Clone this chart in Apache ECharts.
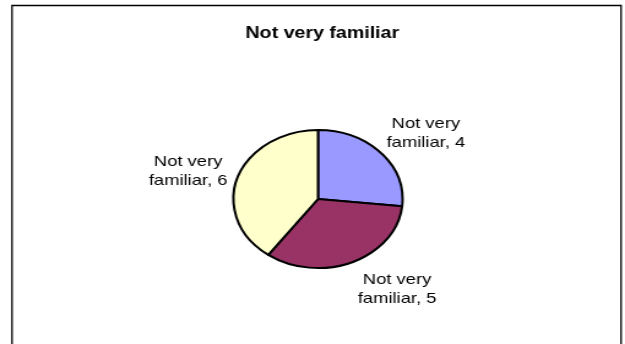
<!DOCTYPE html>
<html>
<head>
<meta charset="utf-8">
<script src="https://cdn.jsdelivr.net/npm/echarts@6/dist/echarts.min.js"></script>
<style>
  html, body { margin: 0; padding: 0; background: #fff; }
  #wrap { width: 625px; height: 344px; overflow: hidden; position: relative; }
  #main { width: 510px; height: 344px; transform: scaleX(1.2255); transform-origin: 0 0; }
</style>
</head>
<body>
<div id="wrap"><div id="main"></div></div>
<script>
// ---- data ----
const chartTitle = 'Not very familiar';
const categories = ['Not very familiar', 'Not very familiar', 'Not very familiar'];
const values = [4, 5, 6];
const sliceColors = ['#9999FF', '#993366', '#FFFFCC'];

// ---- layout (unscaled canvas coordinates) ----
const pieCenter = [259.5, 199];
const pieRadius = 69;
// label block centers, relative to the pie centre
const labelOffsets = [[88, -65.5], [64.5, 90], [-106, -28]];

const chart = echarts.init(document.getElementById('main'), null, { renderer: 'canvas' });

chart.setOption({
  backgroundColor: '#ffffff',
  animation: false,
  title: {
    text: chartTitle,
    left: 258,
    top: 21,
    textAlign: 'center',
    textStyle: { fontFamily: 'Liberation Sans, Arial, sans-serif', fontSize: 16, fontWeight: 'bold', color: '#000' }
  },
  graphic: [{
    type: 'rect',
    shape: { x: 9.8, y: 5.5, width: 497, height: 400 },
    style: { fill: null, stroke: '#000', lineWidth: 1.3 },
    silent: true
  }],
  series: [{
    type: 'pie',
    center: pieCenter,
    radius: pieRadius,
    startAngle: 90,
    clockwise: true,
    avoidLabelOverlap: false,
    itemStyle: { borderColor: '#000', borderWidth: 2 },
    label: {
      show: true,
      position: 'outside',
      formatter: function (p) { return 'Not very\nfamiliar, ' + p.value; },
      fontFamily: 'Liberation Sans, Arial, sans-serif',
      fontSize: 15,
      lineHeight: 19,
      color: '#000',
      align: 'center'
    },
    labelLine: { show: false },
    labelLayout: function (p) {
      const o = labelOffsets[p.dataIndex];
      return {
        x: pieCenter[0] + o[0],
        y: pieCenter[1] + o[1],
        align: 'center',
        verticalAlign: 'middle'
      };
    },
    emphasis: { disabled: true },
    data: values.map(function (v, i) {
      return { name: categories[i], value: v, itemStyle: { color: sliceColors[i] } };
    })
  }]
});
</script>
</body>
</html>
